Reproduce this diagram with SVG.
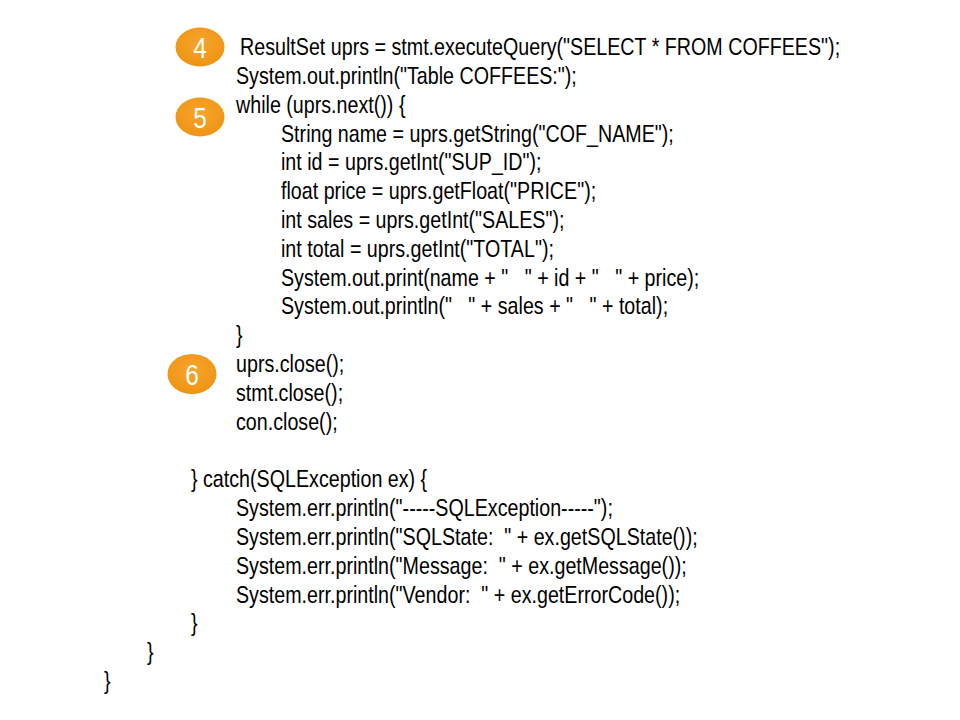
<svg xmlns="http://www.w3.org/2000/svg" width="960" height="720" viewBox="0 0 960 720">
<defs>
<radialGradient id="og" cx="50%" cy="40%" r="60%">
<stop offset="0" stop-color="#F7A52C"/>
<stop offset="1" stop-color="#EE9414"/>
</radialGradient>
</defs>
<style>
.c{font-family:"Liberation Sans",Arial,sans-serif;font-size:24px;fill:#000;white-space:pre}
.n{font-family:"Liberation Sans",Arial,sans-serif;font-size:29px;fill:#fff;text-anchor:middle}
.b{fill:url(#og)}
</style>
<rect width="960" height="720" fill="#fff"/>
<g id="badge4"><ellipse class="b" cx="200" cy="47" rx="24.5" ry="19.5"/><text class="n" transform="translate(200,57.5) scale(0.84,1)">4</text></g>
<g id="badge5"><ellipse class="b" cx="200" cy="117" rx="24.5" ry="19.5"/><text class="n" transform="translate(200,127.5) scale(0.84,1)">5</text></g>
<g id="badge6"><ellipse class="b" cx="192" cy="374" rx="24.5" ry="20"/><text class="n" transform="translate(192,384.5) scale(0.84,1)">6</text></g>
<g id="code">
<text class="c" transform="translate(240,55) scale(0.82,1)">ResultSet uprs = stmt.executeQuery("SELECT * FROM COFFEES");</text>
<text class="c" transform="translate(236,83.8) scale(0.82,1)">System.out.println("Table COFFEES:");</text>
<text class="c" transform="translate(236,112.6) scale(0.82,1)">while (uprs.next()) {</text>
<text class="c" transform="translate(281,141.5) scale(0.82,1)">String name = uprs.getString("COF_NAME");</text>
<text class="c" transform="translate(281,170.3) scale(0.82,1)">int id = uprs.getInt("SUP_ID");</text>
<text class="c" transform="translate(281,199.1) scale(0.82,1)">float price = uprs.getFloat("PRICE");</text>
<text class="c" transform="translate(281,227.9) scale(0.82,1)">int sales = uprs.getInt("SALES");</text>
<text class="c" transform="translate(281,256.7) scale(0.82,1)">int total = uprs.getInt("TOTAL");</text>
<text class="c" transform="translate(281,285.6) scale(0.82,1)">System.out.print(name + "   " + id + "   " + price);</text>
<text class="c" transform="translate(281,314.4) scale(0.82,1)">System.out.println("   " + sales + "   " + total);</text>
<text class="c" transform="translate(236,343.2) scale(0.82,1)">}</text>
<text class="c" transform="translate(236,372) scale(0.82,1)">uprs.close();</text>
<text class="c" transform="translate(236,400.8) scale(0.82,1)">stmt.close();</text>
<text class="c" transform="translate(236,429.7) scale(0.82,1)">con.close();</text>
<text class="c" transform="translate(191,487.3) scale(0.82,1)">} catch(SQLException ex) {</text>
<text class="c" transform="translate(236,516.1) scale(0.82,1)">System.err.println("-----SQLException-----");</text>
<text class="c" transform="translate(236,544.9) scale(0.82,1)">System.err.println("SQLState:  " + ex.getSQLState());</text>
<text class="c" transform="translate(236,573.8) scale(0.82,1)">System.err.println("Message:  " + ex.getMessage());</text>
<text class="c" transform="translate(236,602.6) scale(0.82,1)">System.err.println("Vendor:  " + ex.getErrorCode());</text>
<text class="c" transform="translate(191,631.4) scale(0.82,1)">}</text>
<text class="c" transform="translate(147,660.2) scale(0.82,1)">}</text>
<text class="c" transform="translate(104,689) scale(0.82,1)">}</text>
</g>
</svg>
